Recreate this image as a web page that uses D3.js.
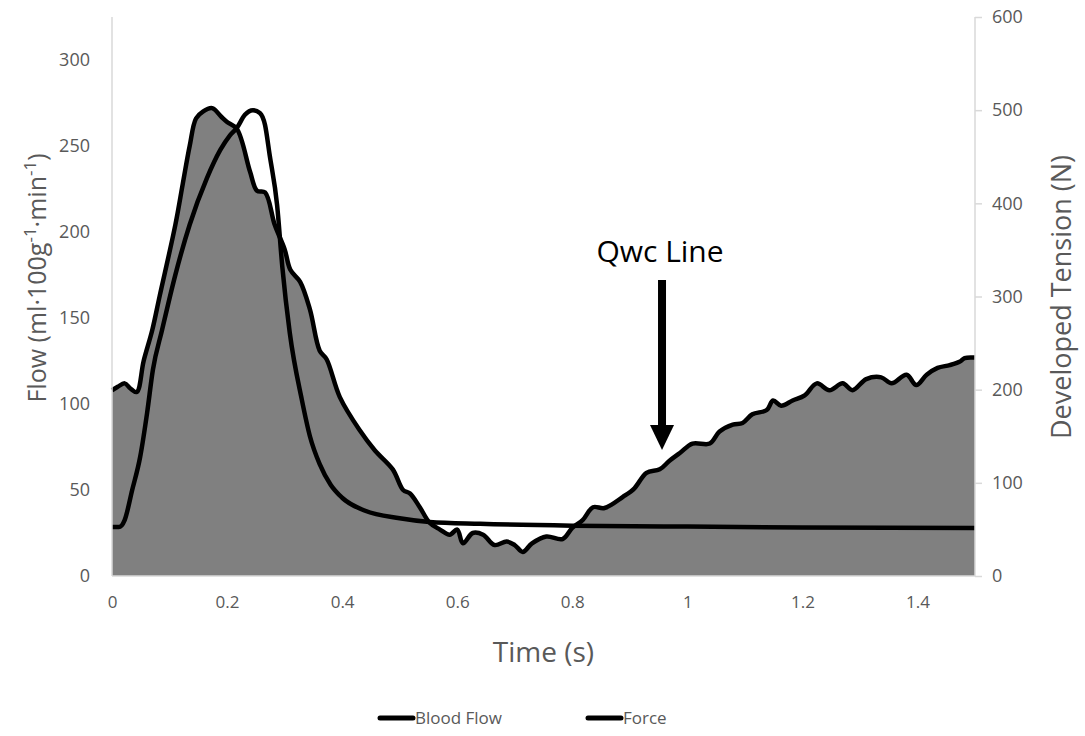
<!DOCTYPE html>
<html>
<head>
<title>Flow and Force</title>
<script src="https://d3js.org/d3.v7.min.js"></script>
<style>
body { margin: 0; background: #fff; }
text { font-family: "Open Sans", "Noto Sans", sans-serif; }
</style>
</head>
<body>
<script>
var width = 1085,
    height = 736;

// blood flow (left axis, ml/100g/min)
var flowTime = [0, 0.01, 0.022, 0.032, 0.043, 0.055, 0.07, 0.083, 0.11, 0.123, 0.135, 0.146, 0.158, 0.174, 0.19, 0.2,
  0.217, 0.24, 0.252, 0.266, 0.283, 0.3, 0.31, 0.327, 0.344, 0.361, 0.373, 0.396, 0.43, 0.457, 0.488, 0.506, 0.518,
  0.535, 0.552, 0.57, 0.587, 0.6, 0.61, 0.627, 0.645, 0.665, 0.686, 0.7, 0.714, 0.73, 0.755, 0.783, 0.8, 0.818, 0.836,
  0.856, 0.888, 0.908, 0.929, 0.952, 0.969, 0.987, 1.009, 1.039, 1.056, 1.079, 1.096, 1.113, 1.138, 1.149, 1.163, 1.183,
  1.204, 1.225, 1.247, 1.27, 1.287, 1.311, 1.337, 1.355, 1.381, 1.398, 1.416, 1.435, 1.456, 1.473, 1.482, 1.5];
var flowValues = [108, 110, 112, 109, 107, 125, 143, 163, 204, 228, 250, 266, 270, 272, 267, 264,
  260, 235, 224, 223, 204, 190, 178, 171, 155, 131, 126, 104, 85, 73, 62, 50, 48,
  40, 31, 27, 24, 27, 19, 25, 24, 18, 20, 18, 14, 19, 23, 21.5, 28, 32.5, 40,
  39.5, 46, 51, 60, 62, 67, 71.5, 77, 77, 84, 88, 89, 94, 96.5, 102, 99, 102,
  105, 112, 108, 112, 108, 114.5, 115.5, 112, 117, 111, 117, 121, 122.6, 124.5, 126.7, 127];

// developed tension (right axis, N)
var forceTime = [0, 0.012, 0.022, 0.035, 0.049, 0.061, 0.071, 0.087, 0.11, 0.135, 0.165, 0.188, 0.205, 0.217, 0.231,
  0.245, 0.257, 0.266, 0.274, 0.287, 0.296, 0.309, 0.33, 0.344, 0.361, 0.38, 0.4, 0.44, 0.5, 0.552, 0.64, 0.8,
  1.0, 1.2, 1.5];
var forceValues = [52.5, 52.5, 60, 92, 128, 175, 221, 264, 323, 377, 427, 457, 473, 481, 495,
  500, 497, 484, 452, 398, 332, 261, 189, 150, 120, 98, 84, 70, 62, 58, 56, 54,
  53, 52, 51.5];

var xTicks = [0, 0.2, 0.4, 0.6, 0.8, 1, 1.2, 1.4];
var flowTicks = [0, 50, 100, 150, 200, 250, 300];
var forceTicks = [0, 100, 200, 300, 400, 500, 600];
var seriesNames = ["Blood Flow", "Force"];

var margin = {top: 17, right: 110, bottom: 160, left: 112};
var plotW = width - margin.left - margin.right,
    plotH = height - margin.top - margin.bottom;

var svg = d3.select("body").append("svg")
    .attr("width", width)
    .attr("height", height);

var g = svg.append("g")
    .attr("transform", "translate(" + margin.left + "," + margin.top + ")");

var x = d3.scaleLinear().domain([0, 1.5]).range([0, plotW]);
var yFlow = d3.scaleLinear().domain([0, 325]).range([plotH, 0]);
var yForce = d3.scaleLinear().domain([0, 600]).range([plotH, 0]);

var flowData = flowTime.map(function(t, i) { return {t: t, v: flowValues[i]}; });
var forceData = forceTime.map(function(t, i) { return {t: t, v: forceValues[i]}; });

// flow area
var area = d3.area()
    .x(function(d) { return x(d.t); })
    .y0(plotH)
    .y1(function(d) { return yFlow(d.v); })
    .curve(d3.curveCatmullRom.alpha(0.5));

g.append("path")
    .datum(flowData)
    .attr("fill", "#808080")
    .attr("d", area);

g.append("path")
    .datum(flowData)
    .attr("fill", "none")
    .attr("stroke", "#000")
    .attr("stroke-width", 4.5)
    .attr("stroke-linejoin", "round")
    .attr("d", d3.line()
        .x(function(d) { return x(d.t); })
        .y(function(d) { return yFlow(d.v); })
        .curve(d3.curveCatmullRom.alpha(0.5)));

// force line
g.append("path")
    .datum(forceData)
    .attr("fill", "none")
    .attr("stroke", "#000")
    .attr("stroke-width", 4.5)
    .attr("stroke-linejoin", "round")
    .attr("d", d3.line()
        .x(function(d) { return x(d.t); })
        .y(function(d) { return yForce(d.v); })
        .curve(d3.curveMonotoneX));

// axes
var axisColor = "#d9d9d9",
    labelColor = "#595959";

var xAxis = g.append("g")
    .attr("transform", "translate(0," + plotH + ")")
    .call(d3.axisBottom(x).tickValues(xTicks).tickSize(0).tickPadding(20).tickFormat(d3.format("")));
var leftAxis = g.append("g")
    .call(d3.axisLeft(yFlow).tickValues(flowTicks).tickSize(0).tickPadding(22));
var rightAxis = g.append("g")
    .attr("transform", "translate(" + plotW + ",0)")
    .call(d3.axisRight(yForce).tickValues(forceTicks).tickSize(7).tickPadding(10));

[xAxis, leftAxis, rightAxis].forEach(function(a) {
  a.select(".domain").attr("stroke", axisColor).attr("stroke-width", 1.5);
  a.selectAll(".tick line").attr("stroke", axisColor).attr("stroke-width", 1.5);
  a.selectAll(".tick text")
      .attr("fill", labelColor)
      .style("font-size", "18px");
});
xAxis.selectAll(".tick text").style("font-size", "17px");
leftAxis.select(".domain").attr("d", "M0," + plotH + "V0");
rightAxis.select(".domain").attr("d", "M0," + plotH + "V0");
xAxis.select(".domain").attr("d", "M0,0H" + plotW);

// axis titles
var leftTitle = svg.append("text")
    .attr("transform", "translate(46,278) rotate(-90)")
    .attr("text-anchor", "middle")
    .attr("fill", labelColor)
    .style("font-size", "25px");
leftTitle.append("tspan").text("Flow (ml·100g");
leftTitle.append("tspan").attr("dy", -10).style("font-size", "17px").text("-1");
leftTitle.append("tspan").attr("dy", 10).text("·min");
leftTitle.append("tspan").attr("dy", -10).style("font-size", "17px").text("-1");
leftTitle.append("tspan").attr("dy", 10).text(")");

svg.append("text")
    .attr("transform", "translate(1071,297) rotate(-90)")
    .attr("text-anchor", "middle")
    .attr("fill", labelColor)
    .style("font-size", "27px")
    .text("Developed Tension (N)");

svg.append("text")
    .attr("x", margin.left + x(0.75))
    .attr("y", 662)
    .attr("text-anchor", "middle")
    .attr("fill", labelColor)
    .style("font-size", "28px")
    .text("Time (s)");

// Qwc annotation
var qx = margin.left + x(0.956);
svg.append("text")
    .attr("x", qx - 2)
    .attr("y", 262)
    .attr("text-anchor", "middle")
    .attr("fill", "#000")
    .style("font-size", "30px")
    .text("Qwc Line");
svg.append("line")
    .attr("x1", qx).attr("x2", qx)
    .attr("y1", 280).attr("y2", 428)
    .attr("stroke", "#000")
    .attr("stroke-width", 8);
svg.append("path")
    .attr("d", "M" + (qx - 12) + ",425L" + (qx + 12) + ",425L" + qx + ",450Z")
    .attr("fill", "#000");

// legend
var legend = svg.append("g").attr("transform", "translate(0,718)");
var legendX = [380, 588];
seriesNames.forEach(function(name, i) {
  legend.append("line")
      .attr("x1", legendX[i]).attr("x2", legendX[i] + 33)
      .attr("y1", 0).attr("y2", 0)
      .attr("stroke", "#000")
      .attr("stroke-width", 5)
      .attr("stroke-linecap", "round");
  legend.append("text")
      .attr("x", legendX[i] + 35)
      .attr("y", 6)
      .attr("fill", labelColor)
      .style("font-size", "17px")
      .text(name);
});
</script>
</body>
</html>
